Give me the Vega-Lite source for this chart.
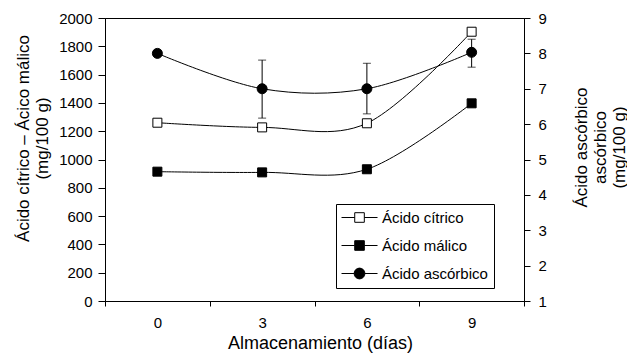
{
  "$schema": "https://vega.github.io/schema/vega-lite/v6.json",
  "width": 419,
  "height": 283,
  "autosize": {"type": "none"},
  "padding": {"left": 105, "top": 18, "right": 103, "bottom": 58},
  "config": {
    "font": "Liberation Sans",
    "view": {"stroke": "black", "strokeWidth": 1},
    "axis": {
      "grid": false,
      "domainColor": "black",
      "tickColor": "black",
      "labelColor": "black",
      "titleColor": "black",
      "labelFont": "Liberation Sans",
      "titleFont": "Liberation Sans",
      "labelFontSize": 15,
      "titleFontSize": 17,
      "titleFontWeight": "normal"
    },
    "legend": {
      "orient": "none",
      "legendX": 231,
      "legendY": 186,
      "strokeColor": "black",
      "fillColor": "white",
      "padding": 6,
      "symbolSize": 144,
      "symbolStrokeColor": "black",
      "symbolStrokeWidth": 1,
      "symbolOpacity": 1,
      "labelFont": "Liberation Sans",
      "labelFontSize": 15,
      "labelColor": "black",
      "labelOffset": 25,
      "rowPadding": 12
    }
  },
  "datasets": {
    "acids": [
      {"d": 0, "serie": "Ácido cítrico", "v": 1260},
      {"d": 3, "serie": "Ácido cítrico", "v": 1227},
      {"d": 6, "serie": "Ácido cítrico", "v": 1256},
      {"d": 9, "serie": "Ácido cítrico", "v": 1903},
      {"d": 0, "serie": "Ácido málico", "v": 914},
      {"d": 3, "serie": "Ácido málico", "v": 909},
      {"d": 6, "serie": "Ácido málico", "v": 931},
      {"d": 9, "serie": "Ácido málico", "v": 1397}
    ],
    "asc": [
      {"d": 0, "serie": "Ácido ascórbico", "v": 8.0, "lo": null, "hi": null},
      {"d": 3, "serie": "Ácido ascórbico", "v": 7.0, "lo": 6.17, "hi": 7.81},
      {"d": 6, "serie": "Ácido ascórbico", "v": 7.0, "lo": 6.29, "hi": 7.72},
      {"d": 9, "serie": "Ácido ascórbico", "v": 8.03, "lo": 7.61, "hi": 8.40}
    ],
    "leg": [
      {"d": 0, "serie": "Ácido cítrico", "v": -1000},
      {"d": 0, "serie": "Ácido málico", "v": -1000},
      {"d": 0, "serie": "Ácido ascórbico", "v": -1000}
    ]
  },
  "encoding": {
    "x": {
      "field": "d",
      "type": "ordinal",
      "scale": {"type": "band", "paddingInner": 0, "paddingOuter": 0},
      "axis": {
        "title": "Almacenamiento (días)",
        "titleFontSize": 18,
        "titleX": 215,
        "labelAngle": 0,
        "tickBand": "extent",
        "tickSize": 5,
        "labelPadding": 9,
        "titlePadding": 4
      }
    }
  },
  "layer": [
    {
      "encoding": {
        "y": {
          "field": "v",
          "type": "quantitative",
          "scale": {"domain": [0, 2000]},
          "axis": {
            "orient": "left",
            "format": "d",
            "values": [0, 200, 400, 600, 800, 1000, 1200, 1400, 1600, 1800, 2000],
            "tickSize": 7,
            "labelPadding": 6,
            "title": ["Ácido cítrico – Ácico málico", "(mg/100 g)"],
            "titleAngle": 270,
            "titleAlign": "center",
            "titleBaseline": "alphabetic",
            "titleLineHeight": 19,
            "titleX": -77,
            "titleY": 120
          }
        }
      },
      "layer": [
        {
          "data": {"name": "acids"},
          "mark": {"type": "line", "interpolate": "cardinal", "color": "black", "strokeWidth": 1},
          "encoding": {"detail": {"field": "serie"}}
        },
        {
          "data": {"name": "acids"},
          "transform": [{"filter": "datum.serie === 'Ácido cítrico'"}],
          "mark": {"type": "point", "shape": "square", "filled": true, "fill": "white", "stroke": "black", "strokeWidth": 1, "size": 81, "opacity": 1}
        },
        {
          "data": {"name": "acids"},
          "transform": [{"filter": "datum.serie === 'Ácido málico'"}],
          "mark": {"type": "point", "shape": "square", "filled": true, "fill": "black", "stroke": "black", "strokeWidth": 1, "size": 81, "opacity": 1}
        },
        {
          "data": {"name": "leg"},
          "mark": {"type": "point", "clip": true, "filled": true, "stroke": "black", "strokeWidth": 1, "opacity": 1, "size": 144},
          "encoding": {
            "shape": {
              "field": "serie",
              "type": "nominal",
              "scale": {
                "domain": ["Ácido cítrico", "Ácido málico", "Ácido ascórbico"],
                "range": [
                  "M-1.33,0H0.87M2.47,0H4.67M0.87,-0.8H2.47V0.8H0.87Z",
                  "M-1.33,0H0.87M2.47,0H4.67M0.87,-0.8H2.47V0.8H0.87Z",
                  "M-1.33,0H0.77M2.57,0H4.67M0.77,0A0.9,0.9 0 1,0 2.57,0A0.9,0.9 0 1,0 0.77,0Z"
                ]
              },
              "legend": {
                "title": null,
                "encode": {"symbols": {"update": {"stroke": {"value": "black"}, "strokeWidth": {"value": 1}}}}
              }
            },
            "fill": {
              "field": "serie",
              "type": "nominal",
              "scale": {
                "domain": ["Ácido cítrico", "Ácido málico", "Ácido ascórbico"],
                "range": ["white", "black", "black"]
              },
              "legend": {
                "title": null,
                "encode": {"symbols": {"update": {"stroke": {"value": "black"}, "strokeWidth": {"value": 1}}}}
              }
            }
          }
        }
      ]
    },
    {
      "data": {"name": "asc"},
      "encoding": {
        "y": {
          "field": "v",
          "type": "quantitative",
          "scale": {"domain": [1, 9]},
          "axis": {
            "orient": "right",
            "values": [1, 2, 3, 4, 5, 6, 7, 8, 9],
            "tickSize": 6,
            "labelPadding": 8,
            "title": ["Ácido ascórbico", "ascórbico", "(mg/100 g)"],
            "titleAngle": 270,
            "titleAlign": "center",
            "titleBaseline": "alphabetic",
            "titleLineHeight": 19,
            "titleX": 62,
            "titleY": 129
          }
        }
      },
      "layer": [
        {
          "mark": {"type": "line", "interpolate": "cardinal", "color": "black", "strokeWidth": 1}
        },
        {
          "transform": [{"filter": "isValid(datum.lo)"}],
          "mark": {"type": "rule", "color": "black", "strokeWidth": 1},
          "encoding": {"y": {"field": "lo", "type": "quantitative"}, "y2": {"field": "hi"}}
        },
        {
          "transform": [{"filter": "isValid(datum.lo)"}],
          "mark": {"type": "tick", "color": "black", "size": 8, "thickness": 1, "orient": "horizontal"},
          "encoding": {"y": {"field": "lo", "type": "quantitative"}}
        },
        {
          "transform": [{"filter": "isValid(datum.hi)"}],
          "mark": {"type": "tick", "color": "black", "size": 8, "thickness": 1, "orient": "horizontal"},
          "encoding": {"y": {"field": "hi", "type": "quantitative"}}
        },
        {
          "mark": {"type": "point", "shape": "circle", "filled": true, "fill": "black", "stroke": "black", "strokeWidth": 1, "size": 100, "opacity": 1}
        }
      ]
    }
  ],
  "resolve": {"scale": {"y": "independent"}}
}
